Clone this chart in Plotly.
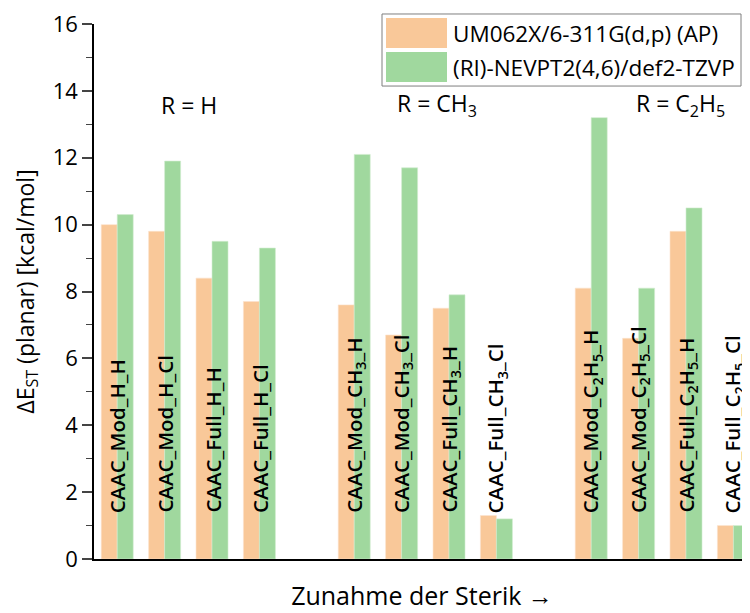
import plotly.graph_objects as go

categories = ["CAAC_Mod_H_H", "CAAC_Mod_H_Cl", "CAAC_Full_H_H", "CAAC_Full_H_Cl", " ",
              "CAAC_Mod_CH3_H", "CAAC_Mod_CH3_Cl", "CAAC_Full_CH3_H", "CAAC_Full_CH3_Cl", "  ",
              "CAAC_Mod_C2H5_H", "CAAC_Mod_C2H5_Cl", "CAAC_Full_C2H5_H", "CAAC_Full_C2H5_Cl"]
labels = ["CAAC_Mod_H_H", "CAAC_Mod_H_Cl", "CAAC_Full_H_H", "CAAC_Full_H_Cl", "",
          "CAAC_Mod_CH<sub>3</sub>_H", "CAAC_Mod_CH<sub>3</sub>_Cl", "CAAC_Full_CH<sub>3</sub>_H", "CAAC_Full_CH<sub>3</sub>_Cl", "",
          "CAAC_Mod_C<sub>2</sub>H<sub>5</sub>_H", "CAAC_Mod_C<sub>2</sub>H<sub>5</sub>_Cl",
          "CAAC_Full_C<sub>2</sub>H<sub>5</sub>_H", "CAAC_Full_C<sub>2</sub>H<sub>5</sub>_Cl"]
um062x = [10.0, 9.8, 8.4, 7.7, None, 7.6, 6.7, 7.5, 1.3, None, 8.1, 6.6, 9.8, 1.0]
nevpt2 = [10.3, 11.9, 9.5, 9.3, None, 12.1, 11.7, 7.9, 1.2, None, 13.2, 8.1, 10.5, 1.0]
series_names = ["UM062X/6-311G(d,p) (AP)", "(RI)-NEVPT2(4,6)/def2-TZVP"]
series_colors = ["#F9C899", "#A0D89E"]
group_labels = ["R = H", "R = CH<sub>3</sub>", "R = C<sub>2</sub>H<sub>5</sub>"]
group_label_x = [0.886, 5.86, 10.9]
y_ticks = [0, 2, 4, 6, 8, 10, 12, 14, 16]

FONT = "Open Sans"
fig = go.Figure()
fig.add_trace(go.Bar(x=categories, y=um062x, name=series_names[0], showlegend=False,
                     marker=dict(color=series_colors[0], line=dict(color="#FBE3CC", width=0.6))))
fig.add_trace(go.Bar(x=categories, y=nevpt2, name=series_names[1], showlegend=False,
                     marker=dict(color=series_colors[1], line=dict(color="#D2EDD0", width=0.6))))

for c, lab in zip(categories, labels):
    if lab:
        fig.add_annotation(x=c, y=0, xref="x", yref="y", text=lab, textangle=-90,
                           showarrow=False, xanchor="center", yanchor="bottom", yshift=44,
                           font=dict(family=FONT, size=20.5, color="black", weight=600))

for gx, gl in zip(group_label_x, group_labels):
    fig.add_annotation(x=gx, y=13.58, xref="x", yref="y", text=gl, showarrow=False,
                       xanchor="left", yanchor="middle",
                       font=dict(family=FONT, size=23, color="black"))

# manual legend (large swatches as in the reference)
def px_x(p):
    return (p - 94) / 656.0

def px_y(p):
    return (558.7 - p) / 534.7

fig.add_shape(type="rect", xref="paper", yref="paper",
              x0=px_x(382), x1=px_x(741), y0=px_y(86), y1=px_y(14),
              line=dict(color="#7F7F7F", width=1), fillcolor="white", layer="above")
for i, (nm, col) in enumerate(zip(series_names, series_colors)):
    top = 18 + 34 * i
    fig.add_shape(type="rect", xref="paper", yref="paper",
                  x0=px_x(386), x1=px_x(447), y0=px_y(top + 30), y1=px_y(top),
                  line=dict(width=0), fillcolor=col, layer="above")
    fig.add_annotation(xref="paper", yref="paper", x=px_x(451), y=px_y(top + 15),
                       text=nm, showarrow=False, xanchor="left", yanchor="middle",
                       font=dict(family=FONT, size=22.5, color="black"))

fig.update_layout(
    width=742, height=605,
    margin=dict(l=86, r=0, t=16, b=54, autoexpand=False),
    paper_bgcolor="white", plot_bgcolor="white",
    barmode="group", bargap=0.325, bargroupgap=0,
    font=dict(family=FONT, size=20, color="black"),
    showlegend=False,
    xaxis=dict(type="category", categoryorder="array", categoryarray=categories,
               range=[-0.49, 13.35], showticklabels=False, ticks="",
               showline=True, linecolor="black", linewidth=1.5, showgrid=False, zeroline=False,
               title=dict(text="Zunahme der Sterik →", font=dict(size=25), standoff=28)),
    yaxis=dict(range=[0, 16], tickmode="array", tickvals=y_ticks,
               ticktext=[str(v) for v in y_ticks], ticklabeloverflow="allow",
               ticks="outside", ticklen=10, tickwidth=1.5,
               showline=True, linecolor="black", linewidth=1.5, showgrid=False, zeroline=False,
               tickfont=dict(size=22),
               minor=dict(dtick=1, tick0=0, ticks="outside", ticklen=6, tickwidth=1.2, showgrid=False),
               title=dict(text="ΔE<sub>ST</sub> (planar) [kcal/mol]", font=dict(size=23), standoff=12)),
)

fig.write_html("out.html")
